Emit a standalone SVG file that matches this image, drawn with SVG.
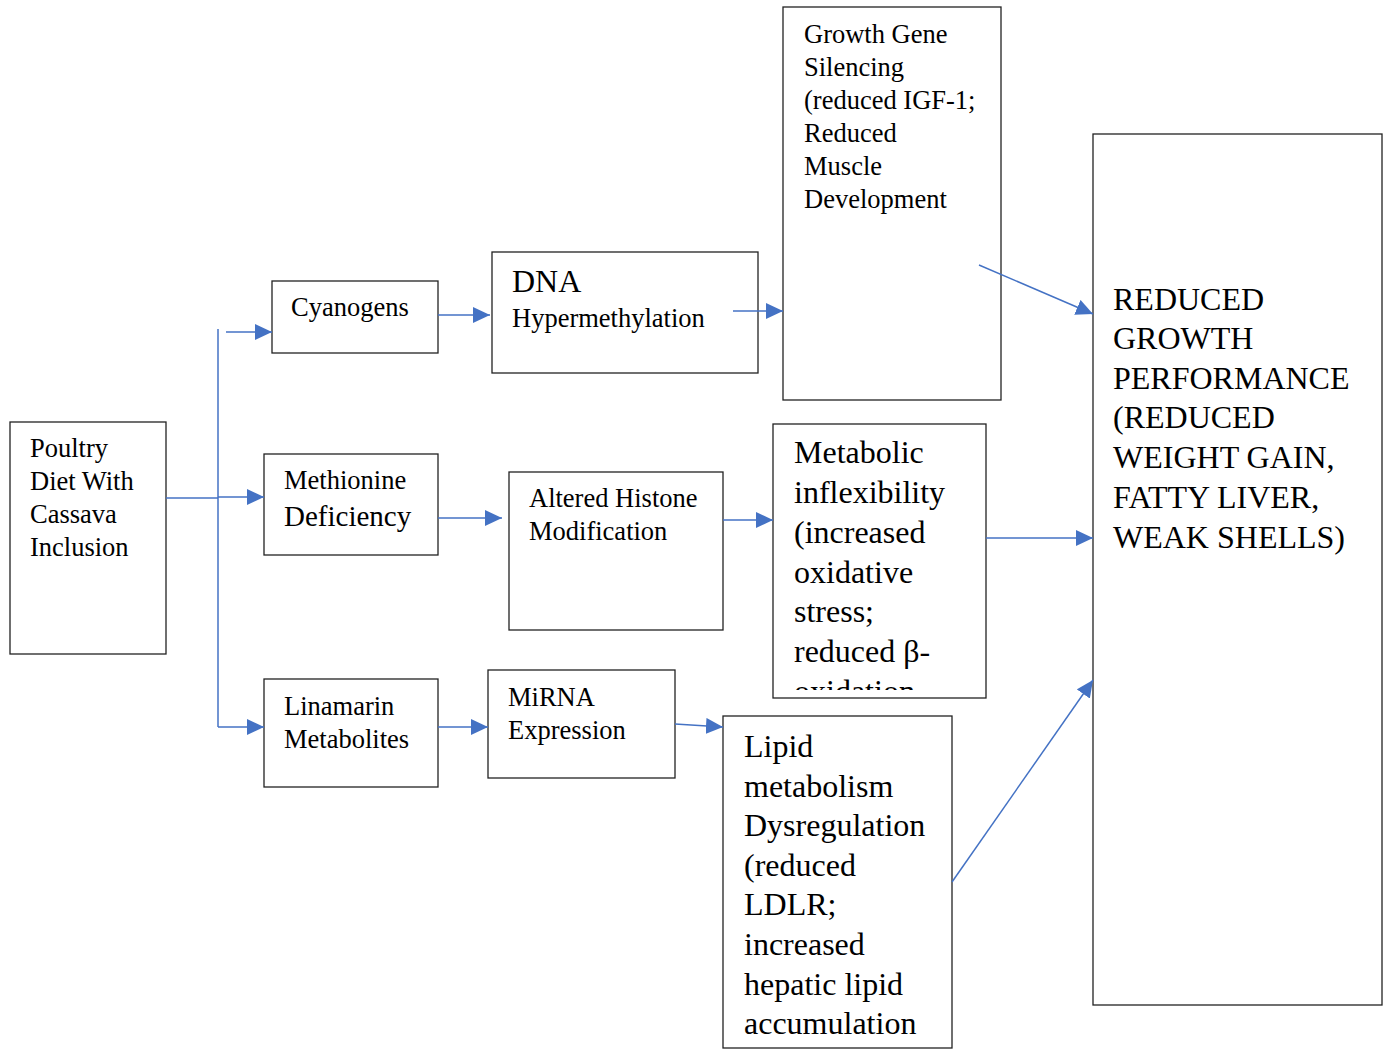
<svg xmlns="http://www.w3.org/2000/svg" width="1387" height="1049" viewBox="0 0 1387 1049">
<style>
.box{fill:#fff;stroke:#222;stroke-width:1.3}
.t{font-family:"Liberation Serif","Times New Roman",serif;fill:#000}
.s24{font-size:26.5px}
.s30{font-size:32px}
.c{stroke:#4472C4;stroke-width:1.5;fill:none}
</style>
<defs>
<marker id="ah" markerUnits="userSpaceOnUse" markerWidth="18" markerHeight="16" refX="17" refY="8" orient="auto">
<path d="M0,0 L17,8 L0,16 Z" fill="#4472C4"/>
</marker>
<clipPath id="clipMet"><rect x="773" y="424" width="213" height="266"/></clipPath>
</defs>
<rect width="1387" height="1049" fill="#fff"/>
<g id="poultry">
<rect class="box" x="10" y="422" width="156" height="232"/>
<text class="t s24" x="30" y="457">Poultry</text>
<text class="t s24" x="30" y="490">Diet With</text>
<text class="t s24" x="30" y="523">Cassava</text>
<text class="t s24" x="30" y="556">Inclusion</text>
</g>
<g id="cyanogens">
<rect class="box" x="272" y="281" width="166" height="72"/>
<text class="t s24" x="291" y="316">Cyanogens</text>
</g>
<g id="methionine">
<rect class="box" x="264" y="454" width="174" height="101"/>
<text class="t s24" x="284" y="489">Methionine</text>
<text class="t" style="font-size:29px" x="284" y="526">Deficiency</text>
</g>
<g id="linamarin">
<rect class="box" x="264" y="679" width="174" height="108"/>
<text class="t s24" x="284" y="715">Linamarin</text>
<text class="t s24" x="284" y="748">Metabolites</text>
</g>
<g id="dna">
<rect class="box" x="492" y="252" width="266" height="121"/>
<text class="t" style="font-size:32px" x="512" y="292">DNA</text>
<text class="t s24" x="512" y="327">Hypermethylation</text>
</g>
<g id="histone">
<rect class="box" x="509" y="472" width="214" height="158"/>
<text class="t s24" x="529" y="507">Altered Histone</text>
<text class="t s24" x="529" y="540">Modification</text>
</g>
<g id="mirna">
<rect class="box" x="488" y="670" width="187" height="108"/>
<text class="t s24" x="508" y="706">MiRNA</text>
<text class="t s24" x="508" y="739">Expression</text>
</g>
<g id="growthgene">
<rect class="box" x="783" y="7" width="218" height="393"/>
<text class="t s24" x="804" y="43">Growth Gene</text>
<text class="t s24" x="804" y="76">Silencing</text>
<text class="t s24" x="804" y="109">(reduced IGF-1;</text>
<text class="t s24" x="804" y="142">Reduced</text>
<text class="t s24" x="804" y="175">Muscle</text>
<text class="t s24" x="804" y="208">Development</text>
</g>
<g id="metabolic">
<rect class="box" x="773" y="424" width="213" height="274"/>
<g clip-path="url(#clipMet)">
<text class="t s30" x="794" y="463">Metabolic</text>
<text class="t s30" x="794" y="503">inflexibility</text>
<text class="t s30" x="794" y="543">(increased</text>
<text class="t s30" x="794" y="583">oxidative</text>
<text class="t s30" x="794" y="622">stress;</text>
<text class="t s30" x="794" y="662">reduced β-</text>
<text class="t s30" x="794" y="702">oxidation</text>
</g>
</g>
<g id="lipid">
<rect class="box" x="723" y="716" width="229" height="332"/>
<text class="t s30" x="744" y="757">Lipid</text>
<text class="t s30" x="744" y="797">metabolism</text>
<text class="t s30" x="744" y="836">Dysregulation</text>
<text class="t s30" x="744" y="876">(reduced</text>
<text class="t s30" x="744" y="915">LDLR;</text>
<text class="t s30" x="744" y="955">increased</text>
<text class="t s30" x="744" y="995">hepatic lipid</text>
<text class="t s30" x="744" y="1034">accumulation</text>
</g>
<g id="reduced">
<rect class="box" x="1093" y="134" width="289" height="871"/>
<text class="t s30" x="1113" y="310">REDUCED</text>
<text class="t s30" x="1113" y="349">GROWTH</text>
<text class="t s30" x="1113" y="389">PERFORMANCE</text>
<text class="t s30" x="1113" y="428">(REDUCED</text>
<text class="t s30" x="1113" y="468">WEIGHT GAIN,</text>
<text class="t s30" x="1113" y="508">FATTY LIVER,</text>
<text class="t s30" x="1113" y="548">WEAK SHELLS)</text>
</g>
<g id="connectors">
<line class="c" x1="166" y1="498" x2="218" y2="498"/>
<line class="c" x1="218" y1="329" x2="218" y2="727"/>
<line class="c" x1="226" y1="332" x2="272" y2="332" marker-end="url(#ah)"/>
<line class="c" x1="218" y1="497" x2="264" y2="497" marker-end="url(#ah)"/>
<line class="c" x1="218" y1="727" x2="264" y2="727" marker-end="url(#ah)"/>
<line class="c" x1="438" y1="315" x2="490" y2="315" marker-end="url(#ah)"/>
<line class="c" x1="733" y1="311" x2="783" y2="311" marker-end="url(#ah)"/>
<line class="c" x1="979" y1="265" x2="1093" y2="314" marker-end="url(#ah)"/>
<line class="c" x1="438" y1="518" x2="502" y2="518" marker-end="url(#ah)"/>
<line class="c" x1="723" y1="520" x2="773" y2="520" marker-end="url(#ah)"/>
<line class="c" x1="986" y1="538" x2="1093" y2="538" marker-end="url(#ah)"/>
<line class="c" x1="438" y1="727" x2="488" y2="727" marker-end="url(#ah)"/>
<line class="c" x1="675" y1="724" x2="723" y2="727" marker-end="url(#ah)"/>
<line class="c" x1="952" y1="882" x2="1093" y2="680" marker-end="url(#ah)"/>
</g>
</svg>
